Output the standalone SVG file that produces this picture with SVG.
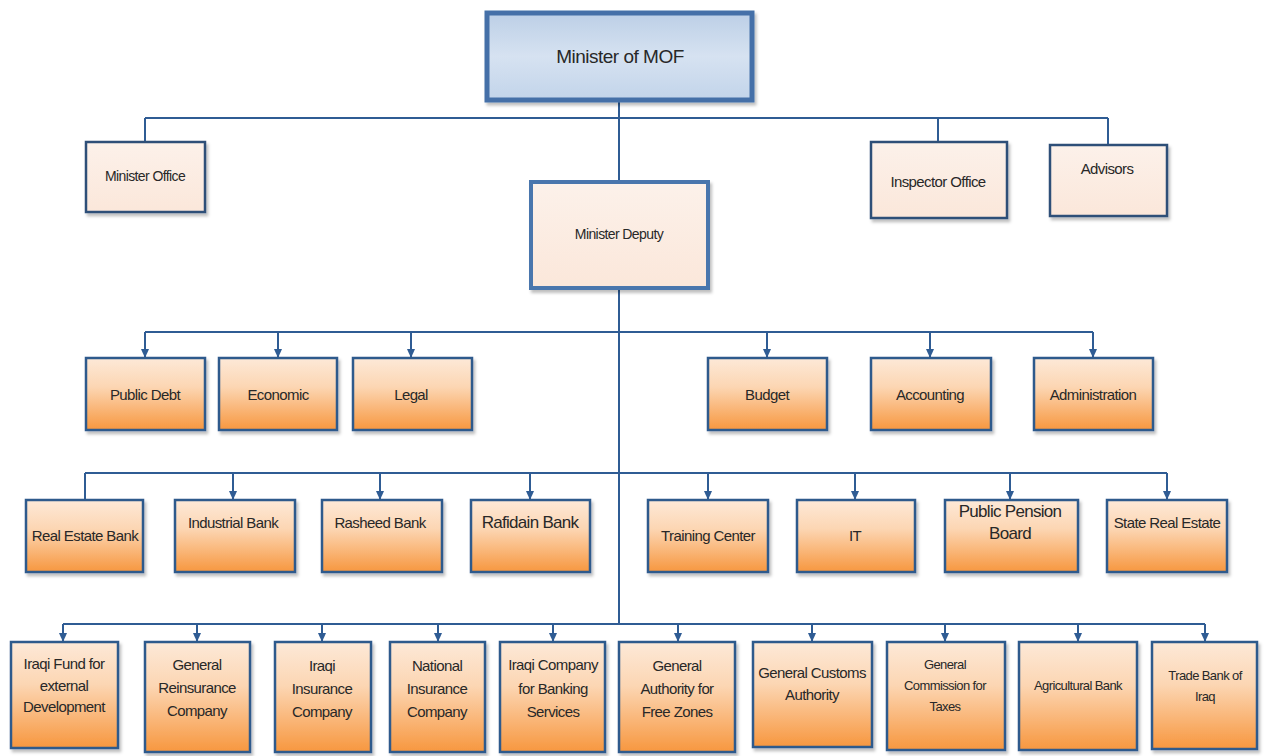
<svg xmlns="http://www.w3.org/2000/svg" width="1268" height="756" viewBox="0 0 1268 756">
<defs>
<linearGradient id="og" x1="0" y1="0" x2="0" y2="1">
<stop offset="0" stop-color="#fde9d8"/>
<stop offset="0.4" stop-color="#fcd6b3"/>
<stop offset="1" stop-color="#f7973f"/>
</linearGradient>
<linearGradient id="bg" x1="0" y1="0" x2="0" y2="1">
<stop offset="0" stop-color="#bccfe6"/>
<stop offset="0.5" stop-color="#d6e2f1"/>
<stop offset="1" stop-color="#c2d4ea"/>
</linearGradient>
<linearGradient id="pg" x1="0" y1="0" x2="0" y2="1">
<stop offset="0" stop-color="#fcf1ea"/>
<stop offset="1" stop-color="#fbe7da"/>
</linearGradient>
<filter id="sh" x="-10%" y="-10%" width="130%" height="130%">
<feDropShadow dx="2" dy="3" stdDeviation="1.5" flood-color="#000" flood-opacity="0.25"/>
</filter>
<marker id="ah" markerUnits="userSpaceOnUse" markerWidth="10" markerHeight="8" refX="9" refY="4" orient="auto">
<path d="M0,0 L9,4 L0,8 z" fill="#2f5c94"/>
</marker>
</defs>
<style>
.c{fill:none;stroke:#2f5c94;stroke-width:2}
.a{marker-end:url(#ah)}
.o{fill:url(#og);stroke:#2f5a8c;stroke-width:2.5;filter:url(#sh)}
.p{fill:url(#pg);stroke:#2f4f78;stroke-width:2.5;filter:url(#sh)}
.b{fill:url(#bg);stroke:#4470a8;stroke-width:5;filter:url(#sh)}
.d{fill:url(#pg);stroke:#4a76ad;stroke-width:4;filter:url(#sh)}
text{font-family:"Liberation Sans",Arial,sans-serif;fill:#282828;text-anchor:middle;dominant-baseline:central}
.t{font-size:14px;letter-spacing:-0.6px}
.s{font-size:13px;letter-spacing:-0.6px}
.m{font-size:15px;letter-spacing:-0.6px}
</style>
<g id="connectors">
<path class="c" d="M619,100 V182 M619,288 V624"/>
<path class="c" d="M145,118 H1108 M145,118 V142 M938,118 V142 M1108,118 V145"/>
<path class="c" d="M145,332 H1093"/>
<path class="c a" d="M145,332 V358"/><path class="c a" d="M278,332 V358"/><path class="c a" d="M411,332 V358"/>
<path class="c a" d="M767,332 V358"/><path class="c a" d="M930,332 V358"/><path class="c a" d="M1093,332 V358"/>
<path class="c" d="M85,473 H1167 M85,473 V500"/>
<path class="c a" d="M233,473 V500"/><path class="c a" d="M380,473 V500"/><path class="c a" d="M530,473 V500"/>
<path class="c a" d="M708,473 V500"/><path class="c a" d="M855,473 V500"/><path class="c a" d="M1010,473 V500"/><path class="c a" d="M1167,473 V500"/>
<path class="c" d="M63,624 H1205"/>
<path class="c a" d="M63,624 V642"/><path class="c a" d="M197,624 V642"/><path class="c a" d="M322,624 V642"/><path class="c a" d="M438,624 V642"/>
<path class="c a" d="M553,624 V642"/><path class="c a" d="M678,624 V642"/><path class="c a" d="M812,624 V642"/><path class="c a" d="M945,624 V642"/>
<path class="c a" d="M1078,624 V642"/><path class="c a" d="M1205,624 V642"/>
</g>
<g id="minister"><rect class="b" x="487" y="13" width="265" height="87"/><text x="620" y="56" style="font-size:19px;letter-spacing:-0.5px">Minister of MOF</text></g>
<g id="minister-office"><rect class="p" x="86" y="142" width="119" height="70"/><text class="t" x="145" y="176">Minister Office</text></g>
<g id="minister-deputy"><rect class="d" x="531" y="182" width="177" height="106"/><text class="t" x="619" y="234">Minister Deputy</text></g>
<g id="inspector-office"><rect class="p" x="871" y="142" width="136" height="76"/><text class="m" x="938" y="181">Inspector Office</text></g>
<g id="advisors"><rect class="p" x="1050" y="145" width="117" height="71"/><text class="m" x="1107" y="168">Advisors</text></g>

<g id="public-debt"><rect class="o" x="86" y="358" width="119" height="72"/><text class="m" x="145" y="394">Public Debt</text></g>
<g id="economic"><rect class="o" x="219" y="358" width="118" height="72"/><text class="m" x="278" y="394">Economic</text></g>
<g id="legal"><rect class="o" x="353" y="358" width="119" height="72"/><text class="m" x="411" y="394">Legal</text></g>
<g id="budget"><rect class="o" x="708" y="358" width="119" height="72"/><text class="m" x="767" y="394">Budget</text></g>
<g id="accounting"><rect class="o" x="871" y="358" width="120" height="72"/><text class="m" x="930" y="394">Accounting</text></g>
<g id="administration"><rect class="o" x="1034" y="358" width="119" height="72"/><text class="m" x="1093" y="394">Administration</text></g>

<g id="real-estate-bank"><rect class="o" x="26" y="500" width="117" height="72"/><text class="m" x="85" y="535">Real Estate Bank</text></g>
<g id="industrial-bank"><rect class="o" x="175" y="500" width="120" height="72"/><text class="m" x="233" y="522">Industrial Bank</text></g>
<g id="rasheed-bank"><rect class="o" x="322" y="500" width="120" height="72"/><text class="m" x="380" y="522">Rasheed Bank</text></g>
<g id="rafidain-bank"><rect class="o" x="471" y="500" width="119" height="72"/><text x="530" y="522" style="font-size:17px;letter-spacing:-0.7px">Rafidain Bank</text></g>
<g id="training-center"><rect class="o" x="648" y="500" width="120" height="72"/><text class="m" x="708" y="535">Training Center</text></g>
<g id="it"><rect class="o" x="797" y="500" width="118" height="72"/><text class="m" x="855" y="535">IT</text></g>
<g id="public-pension-board"><rect class="o" x="945" y="500" width="133" height="72"/><text x="1010" y="511" style="font-size:17px;letter-spacing:-0.7px">Public Pension</text><text x="1010" y="533" style="font-size:17px;letter-spacing:-0.7px">Board</text></g>
<g id="state-real-estate"><rect class="o" x="1107" y="500" width="120" height="72"/><text class="m" x="1167" y="522">State Real Estate</text></g>

<g id="iraqi-fund"><rect class="o" x="11" y="642" width="107" height="106"/><text class="m" x="64" y="663">Iraqi Fund for</text><text class="m" x="64" y="685">external</text><text class="m" x="64" y="706">Development</text></g>
<g id="general-reinsurance"><rect class="o" x="145" y="642" width="105" height="110"/><text class="m" x="197" y="664">General</text><text class="m" x="197" y="687">Reinsurance</text><text class="m" x="197" y="710">Company</text></g>
<g id="iraqi-insurance"><rect class="o" x="275" y="642" width="96" height="110"/><text class="m" x="322" y="665">Iraqi</text><text class="m" x="322" y="688">Insurance</text><text class="m" x="322" y="711">Company</text></g>
<g id="national-insurance"><rect class="o" x="390" y="642" width="95" height="110"/><text class="m" x="437" y="665">National</text><text class="m" x="437" y="688">Insurance</text><text class="m" x="437" y="711">Company</text></g>
<g id="iraqi-banking"><rect class="o" x="500" y="642" width="105" height="110"/><text class="m" x="553" y="664">Iraqi Company</text><text class="m" x="553" y="688">for Banking</text><text class="m" x="553" y="711">Services</text></g>
<g id="free-zones"><rect class="o" x="619" y="642" width="116" height="110"/><text class="m" x="677" y="665">General</text><text class="m" x="677" y="688">Authority for</text><text class="m" x="677" y="711">Free Zones</text></g>
<g id="customs"><rect class="o" x="753" y="642" width="119" height="105"/><text class="m" x="812" y="672">General Customs</text><text class="m" x="812" y="694">Authority</text></g>
<g id="taxes"><rect class="o" x="887" y="642" width="118" height="108"/><text class="s" x="945" y="664">General</text><text class="s" x="945" y="685">Commission for</text><text class="s" x="945" y="706">Taxes</text></g>
<g id="agricultural-bank"><rect class="o" x="1019" y="642" width="118" height="108"/><text class="s" x="1078" y="685">Agricultural Bank</text></g>
<g id="trade-bank"><rect class="o" x="1152" y="642" width="105" height="107"/><text class="s" x="1205" y="675">Trade Bank of</text><text class="s" x="1205" y="696">Iraq</text></g>
</svg>
